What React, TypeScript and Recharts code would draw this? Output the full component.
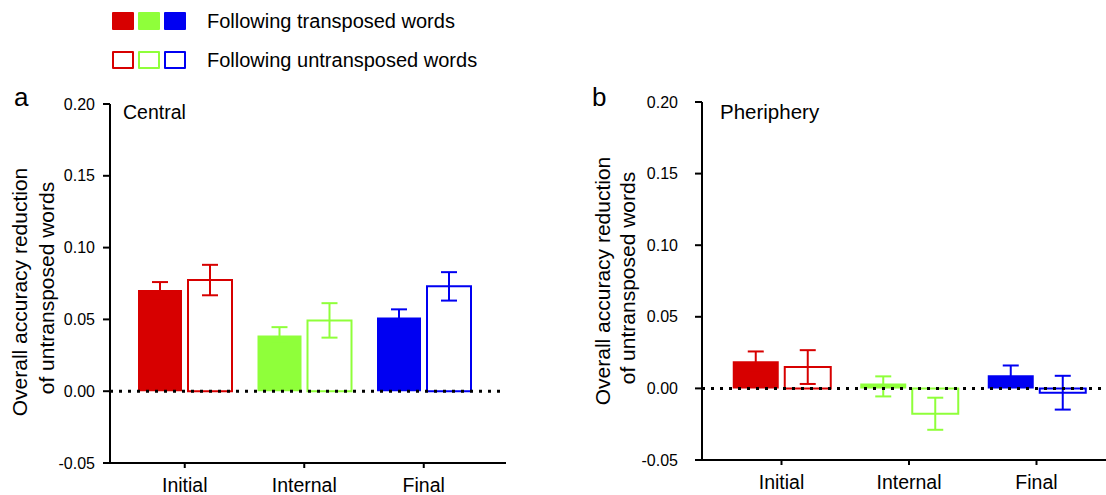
import { Bar, BarChart, ErrorBar, ReferenceLine, XAxis, YAxis } from "recharts";

const RED = "#d70000";
const GREEN = "#8fff3a";
const BLUE = "#0000f2";
const COLORS = [RED, GREEN, BLUE];
const FONT = "'Liberation Sans', Arial, Helvetica, sans-serif";

const categories = ["Initial", "Internal", "Final"];
const yTicks = [-0.05, 0, 0.05, 0.1, 0.15, 0.2];

// panel a (central)
const centralTransposed = [0.0704, 0.0388, 0.0514];
const centralTransposedErr = [0.0056, 0.0058, 0.0056];
const centralUntransposed = [0.0774, 0.0493, 0.073];
const centralUntransposedErr = [0.0106, 0.012, 0.0099];

// panel b (periphery) - the internal err is [below, above]
const periTransposed = [0.019, 0.0035, 0.0091];
const periTransposedErr: (number | number[])[] = [0.0068, [0.0091, 0.0049], 0.0069];
const periUntransposed = [0.0149, -0.0177, -0.003];
const periUntransposedErr = [0.0118, 0.0112, 0.0118];

// one stacked slot per series, one key per colour so every bar + error bar gets its own colour
const rows = (t: number[], tErr: any[], u: number[], uErr: any[]) =>
  categories.map((cat, i) => {
    const r: any = { cat };
    categories.forEach((_, k) => {
      r[`t${k}`] = i === k ? t[i] : 0;
      r[`te${k}`] = i === k ? tErr[i] : null;
      r[`u${k}`] = i === k ? u[i] : 0;
      r[`ue${k}`] = i === k ? uErr[i] : null;
    });
    return r;
  });

const AX = { stroke: "#000", strokeWidth: 2 };

function Chart(p: any) {
  const { data, left, width, top, bottom, right, yAxisWidth, tickGap, padL, padR, barSize } = p;
  return (
    <div style={{ position: "absolute", left, top: 0 }}>
      <BarChart
        width={width}
        height={495}
        data={data}
        margin={{ top, right, bottom, left: 0 }}
        barSize={barSize}
        barGap={6}
      >
        <XAxis
          dataKey="cat"
          axisLine={AX}
          tickLine={AX}
          tickSize={5}
          tickMargin={10}
          height={32}
          interval={0}
          padding={{ left: padL, right: padR }}
          tick={{ fill: "#000", fontSize: 19.5, fontFamily: FONT }}
        />
        <YAxis
          domain={[-0.05, 0.2]}
          ticks={yTicks}
          interval={0}
          width={yAxisWidth}
          axisLine={AX}
          tickLine={AX}
          tickSize={7}
          tickMargin={tickGap}
          tickFormatter={(v: number) => v.toFixed(2)}
          tick={{ fill: "#000", fontSize: 16, fontFamily: FONT }}
        />
        {COLORS.map((c, k) => (
          <Bar key={`t${k}`} dataKey={`t${k}`} stackId="t" fill={c} isAnimationActive={false}>
            <ErrorBar dataKey={`te${k}`} width={8} strokeWidth={2} stroke={c} isAnimationActive={false} />
          </Bar>
        ))}
        {COLORS.map((c, k) => (
          <Bar
            key={`u${k}`}
            dataKey={`u${k}`}
            stackId="u"
            fill="#fff"
            stroke={c}
            strokeWidth={2}
            isAnimationActive={false}
          >
            <ErrorBar dataKey={`ue${k}`} width={8} strokeWidth={2} stroke={c} isAnimationActive={false} />
          </Bar>
        ))}
        <ReferenceLine y={0} stroke="#000" strokeWidth={3} strokeDasharray="3 6" />
      </BarChart>
    </div>
  );
}

function YTitle({ x, y, text }: { x: number; y: number; text: string }) {
  return (
    <div
      style={{
        position: "absolute",
        left: x,
        top: y,
        transform: "translate(-50%, -50%) rotate(-90deg)",
        whiteSpace: "nowrap",
        fontSize: 21,
        lineHeight: "24px",
      }}
    >
      {text}
    </div>
  );
}

function Legend() {
  const sq = (c: string, filled: boolean) =>
    ({
      boxSizing: "border-box",
      width: 22,
      height: 18,
      background: filled ? c : "#fff",
      border: filled ? "none" : `2px solid ${c}`,
      borderRadius: 1,
      marginRight: 4,
    }) as React.CSSProperties;
  const row = (top: number, filled: boolean, label: string) => (
    <div style={{ position: "absolute", left: 112, top, display: "flex", alignItems: "center" }}>
      {COLORS.map((c) => (
        <div key={c} style={sq(c, filled)} />
      ))}
      <span style={{ fontSize: 20, marginLeft: 17, lineHeight: "18px" }}>{label}</span>
    </div>
  );
  return (
    <>
      {row(12, true, "Following transposed words")}
      {row(51, false, "Following untransposed words")}
    </>
  );
}

export default function App() {
  const a = rows(centralTransposed, centralTransposedErr, centralUntransposed, centralUntransposedErr);
  const b = rows(periTransposed, periTransposedErr, periUntransposed, periUntransposedErr);
  return (
    <div
      style={{
        position: "absolute",
        left: 0,
        top: 0,
        width: 1106,
        height: 495,
        background: "#fff",
        fontFamily: FONT,
        color: "#000",
        overflow: "hidden",
      }}
    >
      <Legend />
      <Chart data={a} left={0} width={520} top={104} bottom={0} right={14} yAxisWidth={110} tickGap={8} padL={15} padR={22.5} barSize={44} />
      <Chart data={b} left={560} width={546} top={102} bottom={3} right={0} yAxisWidth={142} tickGap={17} padL={15.75} padR={5.75} barSize={46} />

      <YTitle x={20} y={292} text="Overall accuracy reduction" />
      <YTitle x={47} y={288} text="of untransposed words" />
      <YTitle x={603} y={281} text="Overall accuracy reduction" />
      <YTitle x={628} y={278} text="of untransposed words" />

      <div style={{ position: "absolute", left: 14, top: 84, fontSize: 26, lineHeight: "26px" }}>a</div>
      <div style={{ position: "absolute", left: 592, top: 84, fontSize: 26, lineHeight: "26px" }}>b</div>
      <div style={{ position: "absolute", left: 123, top: 101, fontSize: 19.5, lineHeight: "22px" }}>Central</div>
      <div style={{ position: "absolute", left: 720, top: 101, fontSize: 20.5, lineHeight: "22px" }}>Pheriphery</div>
    </div>
  );
}
